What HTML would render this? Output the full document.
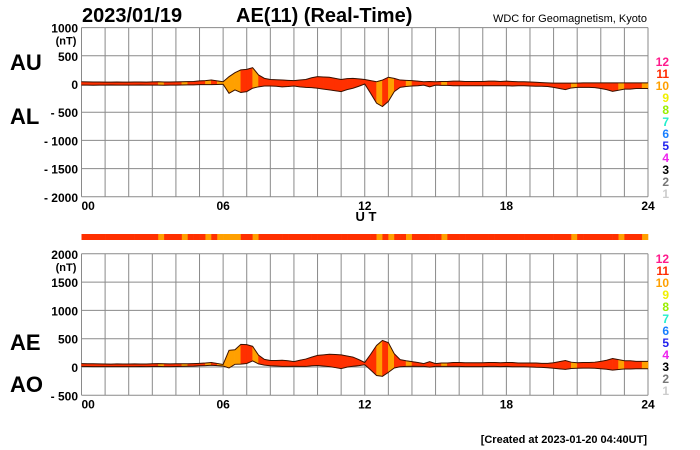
<!DOCTYPE html>
<html><head><meta charset="utf-8"><style>
body{margin:0;background:#fff;width:700px;height:450px;overflow:hidden}
svg{display:block;font-family:"Liberation Sans",sans-serif}
</style></head><body>
<svg id="c" width="700" height="450" viewBox="0 0 700 450">
<text x="82" y="22" font-size="20" font-weight="bold">2023/01/19</text>
<text x="236" y="22" font-size="20" font-weight="bold">AE(11) (Real-Time)</text>
<text x="647" y="22" font-size="11" text-anchor="end">WDC for Geomagnetism, Kyoto</text>
<text x="10" y="70" font-size="22" font-weight="bold">AU</text>
<text x="10" y="124" font-size="22" font-weight="bold">AL</text>
<text x="10" y="350" font-size="22" font-weight="bold">AE</text>
<text x="10" y="392" font-size="22" font-weight="bold">AO</text>
<text x="366" y="221" font-size="13" font-weight="bold" text-anchor="middle">U T</text>
<text x="647" y="443" font-size="11" font-weight="bold" text-anchor="end">[Created at 2023-01-20 04:40UT]</text>
<g id="g"></g>
</svg>
<script>
const hours=["00","06","12","18","24"];
const topTicks=[1000,500,0,-500,-1000,-1500,-2000];
const botTicks=[2000,1500,1000,500,0,-500];
const legendLevels=["12","11","10","9","8","7","6","5","4","3","2","1"];
const legendColors=["#ff1a8c","#ff2a00","#ffa000","#f0f000","#99ee00","#22eecc","#1a7fff","#2222ee","#ee22ee","#000","#777","#ccc"];
// AU / AL every 15 min (97 values)
const AU=[40,38,36,35, 34,33,35,34, 33,35,36,34, 38,40,36,35, 38,40,42,45,
 55,60,70,55, 40,130,200,250, 260,290,160,100, 80,75,70,65, 60,70,80,110,
 130,125,120,100, 80,95,100,90, 80,60,40,70, 120,100,70,65, 60,50,40,45,
 40,45,45,50, 50,45,45,45, 45,50,50,45, 50,45,40,40, 35,30,25,20,
 15,15,15,15, 15,20,20,20, 20,20,20,20, 20,20,20,20, 20];
const AL=[-20,-20,-22,-20, -20,-18,-20,-20, -20,-20,-18,-20, -20,-20,-22,-20, -20,-18,-15,-15,
 -10,-10,-10,-8, -5,-165,-105,-150, -135,-75,-50,-35, -35,-40,-50,-45, -35,-50,-60,-65,
 -75,-90,-105,-120, -135,-100,-75,-40, 0,-165,-340,-400, -310,-135,-60,-45, -35,-30,-20,-50,
 -20,-25,-25,-30, -30,-30,-30,-30, -30,-30,-30,-30, -30,-35,-30,-30, -35,-40,-40,-45,
 -60,-80,-100,-70, -60,-60,-60,-65, -80,-100,-130,-110, -90,-90,-80,-80, -80];
const orangeSlots=[13,17,21,23,24,25,26,29,50,52,55,61,83,91,95];
const X0=81.5,X1=648;
const xs=i=>X0+(X1-X0)*i/96;
const yTop=v=>84-(v)*28.2/500;
const yBot=v=>367-(v)*28.3/500;
const NS="http://www.w3.org/2000/svg";
const g=document.getElementById('g');
function mk(t,a,p){const e=document.createElementNS(NS,t);for(const k in a)e.setAttribute(k,a[k]);(p||g).appendChild(e);return e;}
function lvlColor(i){return orangeSlots.includes(i)?"#ffa000":"#ff3000";}
function panel(ticks,yf,top,bottom,name,lo,hi,legendY){
  for(let h=0;h<=24;h++){const l=mk('line',{x1:X0+(X1-X0)*h/24,x2:X0+(X1-X0)*h/24,y1:top,y2:bottom,stroke:"#8a8a8a","stroke-width":1});
    }
  ticks.forEach(t=>{const y=yf(t);const l=mk('line',{x1:X0,x2:X1,y1:y,y2:y,stroke:"#8a8a8a","stroke-width":1});
    
    const tx=mk('text',{x:78,y:y+5,"font-size":12,"font-weight":"bold","text-anchor":"end"});
    tx.textContent=(t<0?"- "+(-t):String(t));
    });
  const u=mk('text',{x:66,y:yf(ticks[0])+17,"font-size":11,"font-weight":"bold","text-anchor":"middle"});u.textContent="(nT)";
  
  for(let i=0;i<96;i++){
    const p=[[xs(i),yf(hi[i])],[xs(i+1),yf(hi[i+1])],[xs(i+1),yf(lo[i+1])],[xs(i),yf(lo[i])]];
    const s=mk('polygon',{points:p.map(q=>q.join(',')).join(' '),fill:lvlColor(i),stroke:lvlColor(i),"stroke-width":0.5});
    }
  [hi,lo].forEach(arr=>{const l=mk('polyline',{points:arr.map((v,i)=>xs(i)+','+yf(v)).join(' '),fill:"none",stroke:"#3a1000","stroke-width":1});
    });
  hours.forEach((h,k)=>{const t=mk('text',{x:X0+(X1-X0)*k/4,y:bottom+13,"font-size":12,"font-weight":"bold","text-anchor":k==0?"start":"middle"});t.textContent=h;
    });
  legendLevels.forEach((l,k)=>{const t=mk('text',{x:669,y:legendY+k*12,"font-size":12,"font-weight":"bold","text-anchor":"end",fill:legendColors[k]});t.textContent=l;
    });
}
panel(topTicks,yTop,yTop(1000),yTop(-2000),"top",AL,AU,66);
const AE=AU.map((v,i)=>v-AL[i]);
const AO=AU.map((v,i)=>(v+AL[i])/2);
panel(botTicks,yBot,yBot(2000),yBot(-500),"bottom",AO,AE,263);
for(let i=0;i<96;i++){const r=mk('rect',{x:xs(i),y:234,width:(X1-X0)/96+0.3,height:6,fill:lvlColor(i)});
  }
</script>
</body></html>
